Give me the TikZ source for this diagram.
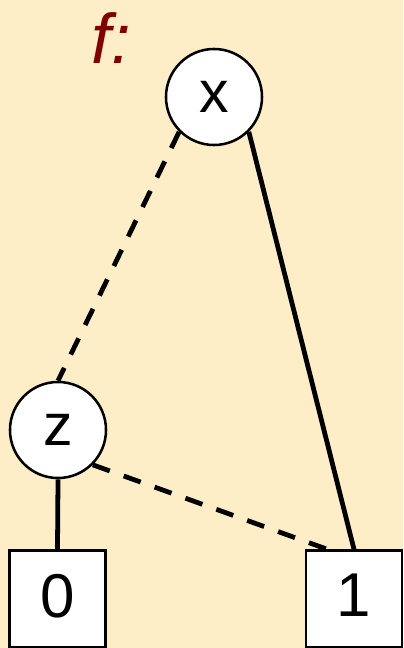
\documentclass[tikz,border=0pt]{standalone}
\usepackage{fontspec}
\setmainfont{Liberation Sans}
\usepackage{tikz}
\usetikzlibrary{calc}
\usepackage{xcolor}
\definecolor{bgcream}{RGB}{253,238,200}
\definecolor{fred}{RGB}{128,0,0}

\begin{document}
\begin{tikzpicture}[
    x=0.025cm,y=-0.025cm,
    var/.style={draw,circle,fill=white,line width=1.8pt,minimum size=2.4cm,inner sep=0pt,font=\fontsize{42}{42}\selectfont},
    leaf/.style={draw,rectangle,fill=white,line width=1.8pt,minimum width=2.4cm,minimum height=2.42cm,inner sep=0pt,font=\fontsize{44}{44}\selectfont},
    hi/.style={line width=3.4pt},
    lo/.style={line width=3.4pt,dash pattern=on 0.45cm off 0.37cm}
]
\clip (0,0) rectangle (403,648);
\fill[bgcream] (0,0) rectangle (403,648);

\node[font=\fontsize{50}{50}\selectfont\itshape,text=fred] (fname) at (111,38) {f:};

\node[var] (x) at (214,97) {x};
\node[var] (z) at (58,430) {z};
\node[leaf] (zero) at (57.5,599) {\raisebox{5pt}{0}};
\node[leaf] (one) at (354,599) {\raisebox{5pt}{1}};

\draw[lo] (x.south west) -- (z.north);
\draw[hi] (x.south east) -- (one.north);
\draw[hi] (z.south) -- (zero.north);
\draw[lo] (z.south east) -- ($(one.north west)!0.23!(one.north east)$);
\end{tikzpicture}
\end{document}
